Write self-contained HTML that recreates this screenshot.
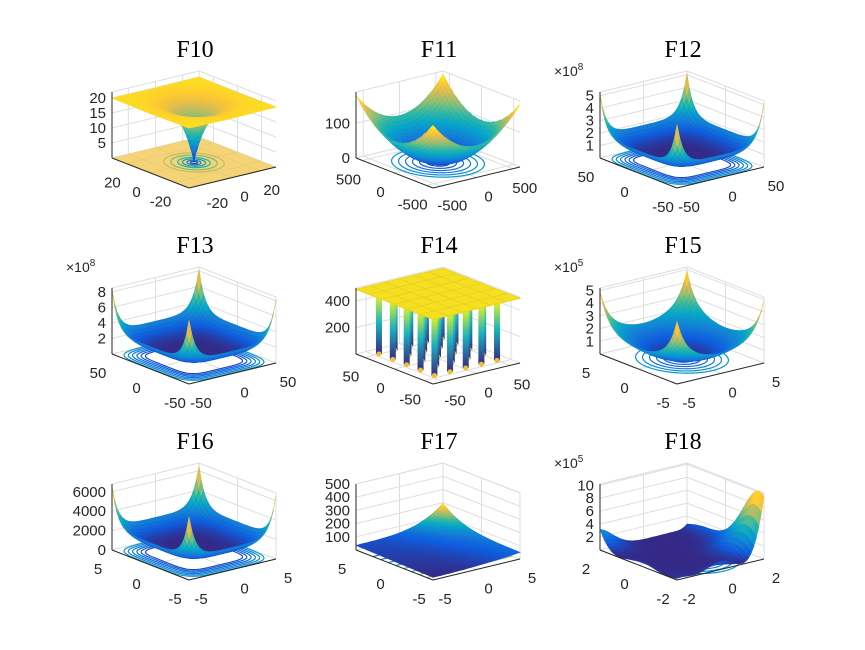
<!DOCTYPE html>
<html><head><meta charset="utf-8"><style>
html,body{margin:0;padding:0;background:#fff;}
svg{display:block;}
text{font-family:"Liberation Sans",Arial,sans-serif;fill:#262626;}
.title{font-family:"Liberation Serif",serif;font-size:24px;fill:#000;}
</style></head><body>
<svg id="fig" width="865" height="650" viewBox="0 0 865 650" xmlns="http://www.w3.org/2000/svg">
<defs><linearGradient id="spg" x1="0" y1="1" x2="0" y2="0"><stop offset="0" stop-color="#352a87"/><stop offset="0.5" stop-color="#1ab3bd"/><stop offset="1" stop-color="#f9fb0e"/></linearGradient></defs>
</svg>
<script>
const titles=["F10","F11","F12","F13","F14","F15","F16","F17","F18"];
const zTicks=[[5,10,15,20],[0,100],[1,2,3,4,5],[2,4,6,8],[200,400],[1,2,3,4,5],[0,2000,4000,6000],[100,200,300,400,500],[2,4,6,8,10]];
const zMaxes=[22,190,5.3,8.5,500,5.2,6800,500,10.2];
const xyRanges=[32,600,50,50,65,5,5,5,2];
const xyTicks=[[-20,0,20],[-500,0,500],[-50,0,50],[-50,0,50],[-50,0,50],[-5,0,5],[-5,0,5],[-5,0,5],[-2,0,2]];
const exponents=["","","8","8","","5","","","5"];
const peaks=[0,0,5.1,8.2,0,5.0,6500,0,0];
const NS="http://www.w3.org/2000/svg";
const svg=document.getElementById('fig');
const stops=[[53,42,135],[15,92,221],[20,129,214],[6,164,202],[46,183,164],[135,191,119],[209,187,89],[254,200,50],[249,251,14]];
function parula(v){v=Math.max(0,Math.min(1,v));const p=v*8;const i=Math.min(7,Math.floor(p));const f=p-i;const a=stops[i],b=stops[i+1];
return `rgb(${Math.round(a[0]+(b[0]-a[0])*f)},${Math.round(a[1]+(b[1]-a[1])*f)},${Math.round(a[2]+(b[2]-a[2])*f)})`;}
function mk(tag,attrs,parent){const e=document.createElementNS(NS,tag);for(const k in attrs)e.setAttribute(k,attrs[k]);(parent||svg).appendChild(e);return e;}
function fn(k,x,y,R){
  if(k===0){return 20+Math.E-20*Math.exp(-0.2*Math.sqrt(0.5*(x*x+y*y)))-Math.E;}
  if(k===1){return (x*x+y*y)/4000-Math.cos(x)*Math.cos(y/Math.SQRT2)+1;}
  if(k===7){const s=(x+5)/10,t=(y+5)/10;return 20+15*s+130*Math.pow(s*t,4)+30*t*t;}
  if(k===8){const a=1+Math.pow(x+y+1,2)*(19-14*x+3*x*x-14*y+6*x*y+3*y*y);const b=30+Math.pow(2*x-3*y,2)*(18-32*x+12*x*x+48*y-36*x*y+27*y*y);return a*b/1e5;}
  const u=x/R,v=y/R;
  if(k===5){return peaks[k]*(0.02+0.3*(u*u+v*v)+0.36*Math.pow(u*v,6));}
  return peaks[k]*(0.12+0.23*(Math.pow(u,4)+Math.pow(v,4))+0.42*Math.pow(u*v,8));
}
for(let k=0;k<9;k++){
  const col=k%3,row=Math.floor(k/3);
  const ox=112+col*244,oy=158+row*196,h=66;
  const L=[ox,oy],F=[ox+77,oy+30],Rr=[ox+164,oy+9];
  const P=(s,t,zn)=>[F[0]+s*(L[0]-F[0])+t*(Rr[0]-F[0]),F[1]+s*(L[1]-F[1])+t*(Rr[1]-F[1])-zn*h];
  const g=mk('g',{});
  
  
  const R=xyRanges[k],zM=zMaxes[k];
  const tv=v=>(v+R)/(2*R);
  const line=(a,b,st,w,nm)=>{const e=mk('line',{x1:a[0],y1:a[1],x2:b[0],y2:b[1],stroke:st,'stroke-width':w},g);return e;};
  const gc='#dedede';
  xyTicks[k].forEach(v=>{const u=tv(v);
    line(P(1,u,0),P(1,u,1),gc,1,'grid-line');line(P(u,1,0),P(u,1,1),gc,1,'grid-line');
    line(P(u,0,0),P(u,1,0),gc,1,'grid-line');line(P(0,u,0),P(1,u,0),gc,1,'grid-line');});
  zTicks[k].forEach(v=>{const zn=v/zM;line(P(1,0,zn),P(1,1,zn),gc,1,'grid-line');line(P(1,1,zn),P(0,1,zn),gc,1,'grid-line');});
  line(P(1,0,1),P(1,1,1),gc,1,'box-edge');line(P(1,1,1),P(0,1,1),gc,1,'box-edge');line(P(1,1,0),P(1,1,1),gc,1,'box-edge');
  line(P(1,1,0),P(1,0,0),gc,1,'box-edge');line(P(1,1,0),P(0,1,0),gc,1,'box-edge');
  if(k===0){const fl=mk('polygon',{points:[P(0,0,0),P(1,0,0),P(1,1,0),P(0,1,0)].map(p=>p.join(',')).join(' '),fill:'#f2c64a',opacity:0.75},g);}
  if(k!==4&&k!==7){
    const square=(k===2||k===3||k===6);
    const radii=k===0?[0.03,0.06,0.1,0.14,0.2,0.26]:(square?[0.34,0.37,0.4,0.43,0.46,0.49]:[0.1,0.16,0.22,0.28,0.34,0.4]);
    radii.forEach((r,i)=>{const pts=[];for(let a=0;a<=60;a++){const th=a/60*2*Math.PI;const cs=k===8?0.35:0.5;
      let c=Math.cos(th),sn=Math.sin(th);if(square){c=Math.sign(c)*Math.pow(Math.abs(c),0.4);sn=Math.sign(sn)*Math.pow(Math.abs(sn),0.4);}
      pts.push(P(cs+r*c,0.5+r*sn,0).join(','));}
      const cv=k===0?i/8+0.1:0.08+i*0.05;
      const e=mk('polyline',{points:pts.join(' '),fill:'none',stroke:parula(cv),'stroke-width':1.2},g);});
  }
  if(k===7){for(let i=0;i<8;i++){const a=P(0.08+0.1*i,0,0),b=P(0.1+0.1*i,1,0);const e=mk('line',{x1:a[0],y1:a[1],x2:b[0],y2:b[1],stroke:parula(0.7-i*0.08),'stroke-width':1.2},g);}}
  if(k===4){
    const cells=[];for(let i=0;i<5;i++)for(let j=0;j<5;j++)cells.push([0.14+i*0.18,0.14+j*0.18]);
    cells.sort((a,b)=>(b[0]+b[1])-(a[0]+a[1]));
    cells.forEach(c=>{const a=P(c[0],c[1],0.02),b=P(c[0],c[1],0.96);
      const e=mk('rect',{x:a[0]-3,y:b[1],width:6,height:a[1]-b[1],fill:'url(#spg)'},g);
      const d=mk('circle',{cx:a[0],cy:a[1],r:2.5,fill:'#f0c030'},g);});
    const pl=mk('polygon',{points:[P(0,0,0.98),P(1,0,0.98),P(1,1,0.98),P(0,1,0.98)].map(p=>p.join(',')).join(' '),fill:'#f5e020',stroke:'#eed218'},g);
    
    for(let i=1;i<6;i++){const u=i/6;line(P(u,0,0.98),P(u,1,0.98),'#e8c828',0.6,'surface-mesh');line(P(0,u,0.98),P(1,u,0.98),'#e8c828',0.6,'surface-mesh');}
  } else {
    const N=k===0?56:34;const Z=[];let mn=Infinity,mx=-Infinity;
    for(let i=0;i<=N;i++){Z.push([]);for(let j=0;j<=N;j++){const z=fn(k,-R+2*R*i/N,-R+2*R*j/N,R);Z[i].push(z);mn=Math.min(mn,z);mx=Math.max(mx,z);}}
    if(k===0)mx=mx*1.08;
    const quads=[];for(let i=0;i<N;i++)for(let j=0;j<N;j++)quads.push([i,j]);
    quads.sort((a,b)=>(b[0]+b[1])-(a[0]+a[1]));
    const sg=mk('g',{},g);
    quads.forEach(([i,j])=>{const zs=[Z[i][j],Z[i+1][j],Z[i+1][j+1],Z[i][j+1]];
      const pts=[[i,j],[i+1,j],[i+1,j+1],[i,j+1]].map((c,n)=>P(c[0]/N,c[1]/N,Math.min(zs[n]/zM,1.02)).map(v=>v.toFixed(1)).join(','));
      const col=parula(((zs[0]+zs[1]+zs[2]+zs[3])/4-mn)/(mx-mn));
      mk('polygon',{points:pts.join(' '),fill:col,stroke:col,'stroke-width':0.6},sg);});
  }
  line(L,P(1,0,1),'#262626',1,'z-axis');line(L,F,'#262626',1,'x-axis');line(F,Rr,'#262626',1,'y-axis');
  zTicks[k].forEach(v=>{const p=P(1,0,v/zM);const t=mk('text',{x:p[0]-6,y:p[1]+5,'text-anchor':'end','font-size':15},g);t.textContent=v;});
  xyTicks[k].forEach(v=>{const u=tv(v);
    let p=P(u,0,0);let t=mk('text',{x:p[0]-14,y:p[1]+24,'text-anchor':'middle','font-size':15},g);t.textContent=v;
    p=P(0,u,0);t=mk('text',{x:p[0]+12,y:p[1]+24,'text-anchor':'middle','font-size':15},g);t.textContent=v;});
  if(exponents[k]){const t=mk('text',{x:ox-46,y:oy-82,'font-size':14},g);t.innerHTML='×10<tspan dy="-6" font-size="10">'+exponents[k]+'</tspan>';}
  const tt=mk('text',{x:ox+83,y:oy-101,'text-anchor':'middle',class:'title'},g);tt.textContent=titles[k];
  
  
}
</script>
</body></html>
